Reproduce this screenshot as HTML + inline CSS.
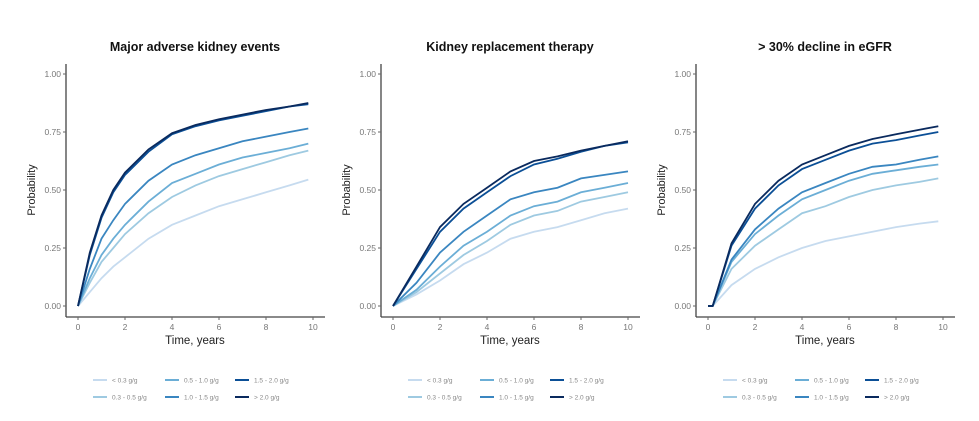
<!DOCTYPE html>
<html><head><meta charset="utf-8"><style>
body{margin:0;background:#fff;width:979px;height:416px;overflow:hidden;font-family:"Liberation Sans",sans-serif}
</style></head><body>
<svg id="c" width="979" height="416"></svg>
<script>
const titles=["Major adverse kidney events","Kidney replacement therapy","> 30% decline in eGFR"];
const groupLabels=["< 0.3 g/g","0.3 - 0.5 g/g","0.5 - 1.0 g/g","1.0 - 1.5 g/g","1.5 - 2.0 g/g","> 2.0 g/g"];
const xTicks=[0,2,4,6,8,10];
const yTicks=[0,0.25,0.5,0.75,1];
const yTickLabels=["0.00","0.25","0.50","0.75","1.00"];
const times1=[0,0.5,1,1.5,2,3,4,5,6,7,8,9,9.8];
const times2=[0,1,2,3,4,5,6,7,8,9,10];
const times3=[0,0.2,1,2,3,4,5,6,7,8,9,9.8];
const p1_lt03=[0,0.06,0.12,0.17,0.21,0.29,0.35,0.39,0.43,0.46,0.49,0.52,0.545];
const p1_0305=[0,0.10,0.19,0.25,0.31,0.40,0.47,0.52,0.56,0.59,0.62,0.65,0.67];
const p1_0510=[0,0.12,0.22,0.29,0.35,0.45,0.53,0.57,0.61,0.64,0.66,0.68,0.70];
const p1_1015=[0,0.16,0.29,0.37,0.44,0.54,0.61,0.65,0.68,0.71,0.73,0.75,0.765];
const p1_1520=[0,0.22,0.38,0.49,0.565,0.665,0.74,0.775,0.80,0.82,0.84,0.86,0.87];
const p1_gt20=[0,0.23,0.39,0.50,0.575,0.675,0.745,0.78,0.805,0.825,0.845,0.86,0.875];
const p2_lt03=[0,0.05,0.11,0.18,0.23,0.29,0.32,0.34,0.37,0.40,0.42];
const p2_0305=[0,0.06,0.14,0.22,0.28,0.35,0.39,0.41,0.45,0.47,0.49];
const p2_0510=[0,0.07,0.17,0.26,0.32,0.39,0.43,0.45,0.49,0.51,0.53];
const p2_1015=[0,0.10,0.23,0.32,0.39,0.46,0.49,0.51,0.55,0.565,0.58];
const p2_1520=[0,0.16,0.32,0.42,0.49,0.56,0.61,0.635,0.665,0.69,0.705];
const p2_gt20=[0,0.17,0.34,0.44,0.51,0.58,0.625,0.645,0.67,0.69,0.71];
const p3_lt03=[0,0,0.09,0.16,0.21,0.25,0.28,0.30,0.32,0.34,0.355,0.365];
const p3_0305=[0,0,0.16,0.26,0.33,0.40,0.43,0.47,0.50,0.52,0.535,0.55];
const p3_0510=[0,0,0.19,0.31,0.39,0.46,0.50,0.54,0.57,0.585,0.60,0.61];
const p3_1015=[0,0,0.20,0.33,0.42,0.49,0.53,0.57,0.60,0.61,0.63,0.645];
const p3_1520=[0,0,0.26,0.42,0.52,0.59,0.63,0.67,0.70,0.715,0.735,0.75];
const p3_gt20=[0,0,0.27,0.44,0.54,0.61,0.65,0.69,0.72,0.74,0.76,0.775];
const colors=["#c6dbef","#9ecae1","#6baed6","#3a86c0","#0b4f96","#0a2a5e"];
const panels=[
 {t:times1,s:[p1_lt03,p1_0305,p1_0510,p1_1015,p1_1520,p1_gt20],ox:0},
 {t:times2,s:[p2_lt03,p2_0305,p2_0510,p2_1015,p2_1520,p2_gt20],ox:315},
 {t:times3,s:[p3_lt03,p3_0305,p3_0510,p3_1015,p3_1520,p3_gt20],ox:630}];
const svg=document.getElementById('c');const NS="http://www.w3.org/2000/svg";
function mk(tag,attrs,parent){const e=document.createElementNS(NS,tag);for(const k in attrs)e.setAttribute(k,attrs[k]);(parent||svg).appendChild(e);return e;}
panels.forEach((p,i)=>{
 const g=mk('g',{});
 
 
 const ox=p.ox;
 const X=v=>ox+78+v*23.5, Y=v=>306-v*232;
 const t=mk('text',{x:ox+195,y:51,'text-anchor':'middle','font-size':'12.5','font-weight':'bold',fill:'#111'},g);t.textContent=titles[i];
 
 const ya=mk('line',{x1:ox+66,y1:64,x2:ox+66,y2:317,stroke:'#444','stroke-width':1.3},g);
 
 const xa=mk('line',{x1:ox+66,y1:317,x2:ox+325,y2:317,stroke:'#444','stroke-width':1.3},g);
 
 yTicks.forEach((v,j)=>{mk('line',{x1:ox+63,x2:ox+66,y1:Y(v),y2:Y(v),stroke:'#666'},g);
  const l=mk('text',{x:ox+61,y:Y(v)+3,'text-anchor':'end','font-size':'8.5',fill:'#777'},g);l.textContent=yTickLabels[j];
  });
 xTicks.forEach(v=>{mk('line',{x1:X(v),x2:X(v),y1:317,y2:320,stroke:'#666'},g);
  const l=mk('text',{x:X(v),y:330,'text-anchor':'middle','font-size':'8.5',fill:'#777'},g);l.textContent=v;
  });
 const xt=mk('text',{x:ox+195,y:344,'text-anchor':'middle','font-size':'11.5',fill:'#222'},g);xt.textContent='Time, years';
 
 const yt=mk('text',{x:0,y:0,'text-anchor':'middle','font-size':'11',fill:'#222',transform:`translate(${ox+35},190) rotate(-90)`},g);yt.textContent='Probability';
 
 p.s.forEach((vals,k)=>{
  const d=vals.map((v,j)=>(j?'L':'M')+X(p.t[j]).toFixed(1)+','+Y(v).toFixed(1)).join(' ');
  const pa=mk('path',{d:d,fill:'none',stroke:colors[k],'stroke-width':1.8},g);
  
  
 });
 const lg=mk('g',{},g);
 
 const cols=[ox+93,ox+165,ox+235];
 groupLabels.forEach((lab,k)=>{
  const col=Math.floor(k/2),row=k%2;
  const lx=cols[col],ly=row?397:380;
  mk('line',{x1:lx,x2:lx+14,y1:ly,y2:ly,stroke:colors[k],'stroke-width':2},lg);
  const tx=mk('text',{x:lx+19,y:ly+2.5,'font-size':'6.5',fill:'#888'},lg);tx.textContent=lab;
  
 });
});
</script>
</body></html>
